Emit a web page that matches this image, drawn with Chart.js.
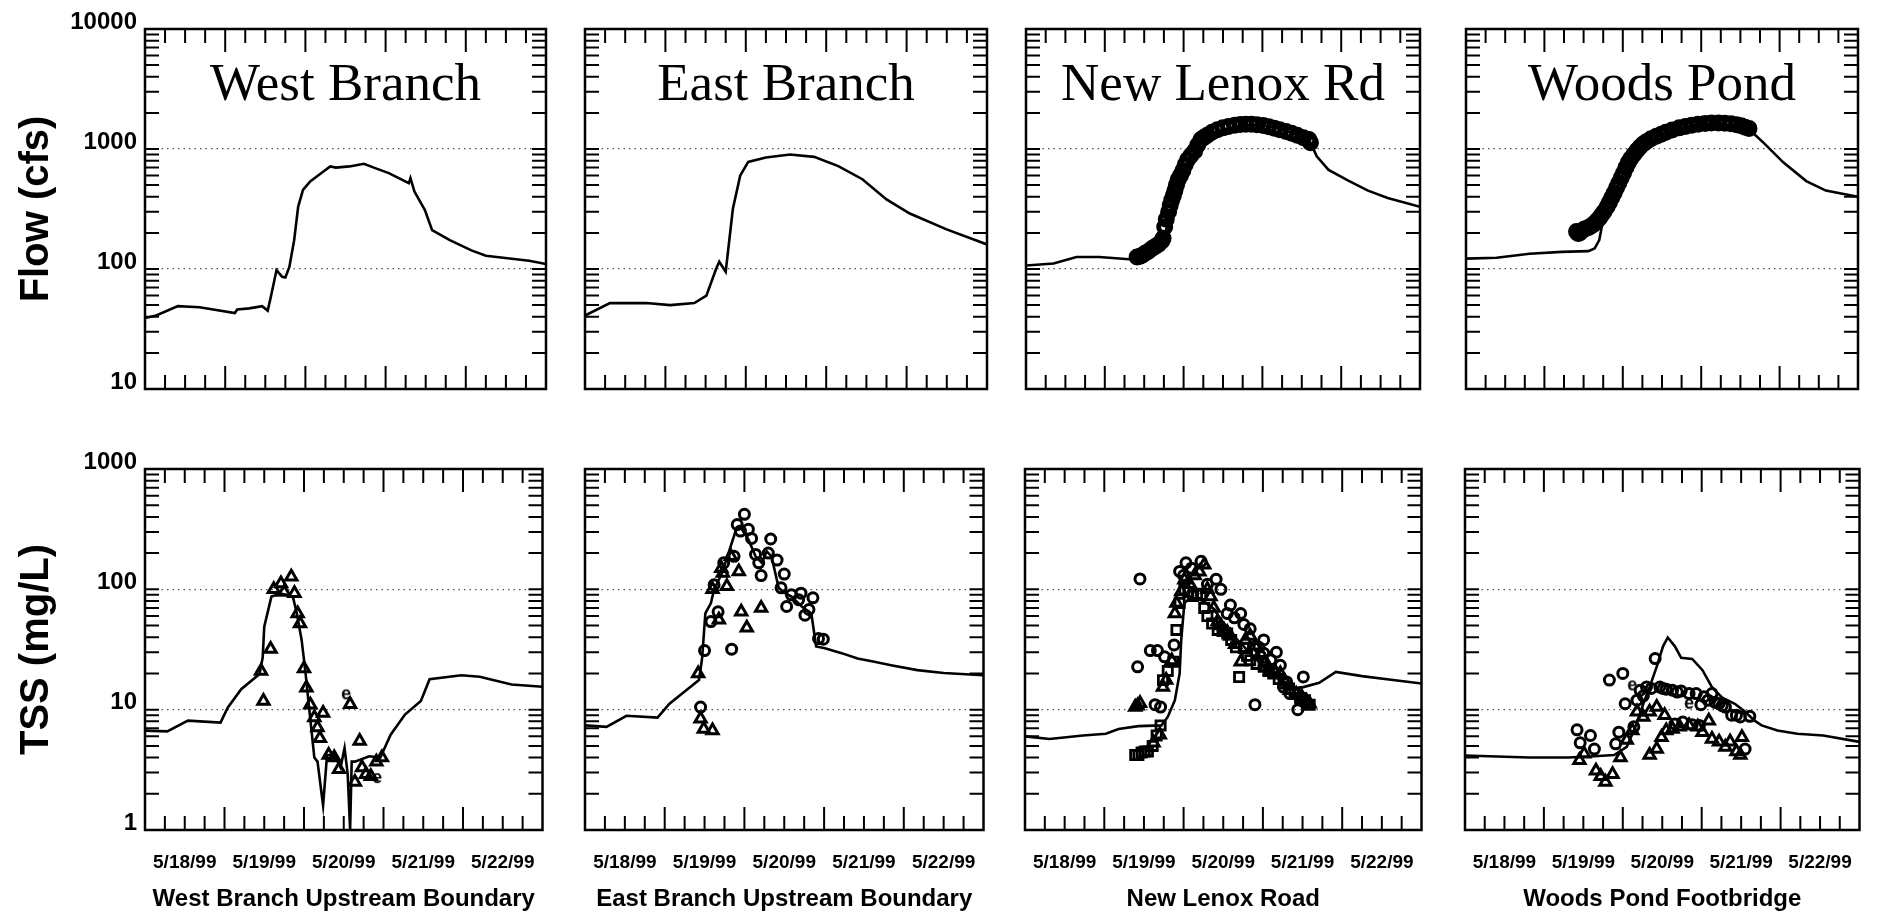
<!DOCTYPE html>
<html>
<head>
<meta charset="utf-8">
<script src="https://cdn.jsdelivr.net/npm/chart.js@4.4.1/dist/chart.umd.min.js"></script>
<style>
  html, body { margin: 0; padding: 0; background: #fff; }
  body { width: 1878px; height: 915px; position: relative; overflow: hidden; }
  canvas { position: absolute; }
</style>
</head>
<body>
<script>
// x values are days after 5/18/99 00:00
const dayLabels = ['5/18/99', '5/19/99', '5/20/99', '5/21/99', '5/22/99'];
const labelDays = [0.5, 1.5, 2.5, 3.5, 4.5];
const flowTicks = [10, 100, 1000, 10000];
const tssTicks = [1, 10, 100, 1000];
const panelTitles = ['West Branch', 'East Branch', 'New Lenox Rd', 'Woods Pond'];
const stationNames = ['West Branch Upstream Boundary', 'East Branch Upstream Boundary', 'New Lenox Road', 'Woods Pond Footbridge'];

// flow (cfs) [day, value]
const wbFlow = [[0,39],[0.14,41],[0.41,49],[0.68,48],[1.12,43],[1.15,46],[1.3,47],[1.46,49],[1.53,45],[1.57,59],[1.64,98],[1.71,86],[1.75,85],[1.8,104],[1.86,174],[1.91,331],[1.97,457],[2.06,537],[2.2,630],[2.31,716],[2.38,700],[2.55,716],[2.73,753],[2.87,693],[3.04,630],[3.29,519],[3.31,571],[3.36,442],[3.49,310],[3.58,211],[3.8,174],[4.07,143],[4.25,129],[4.52,123],[4.79,117],[5,110]];
const ebFlow = [[0,41],[0.31,52],[0.76,52],[1.06,50],[1.36,52],[1.51,60],[1.63,100],[1.67,115],[1.75,95],[1.84,320],[1.93,600],[2.03,780],[2.25,850],[2.55,900],[2.85,860],[3.15,720],[3.45,560],[3.75,380],[4.04,290],[4.49,215],[5,160]];
const nlFlow = [[0,107],[0.35,111],[0.64,126],[0.93,126],[1.35,120],[1.51,125],[1.68,150],[1.8,230],[1.89,420],[2.01,700],[2.18,1050],[2.39,1380],[2.68,1550],[2.93,1600],[3.22,1480],[3.51,1250],[3.61,1130],[3.69,870],[3.84,670],[4.09,545],[4.34,450],[4.59,390],[5,330]];
const nlFlowObs = [[1.41,126],[1.45,128],[1.48,131],[1.51,135],[1.55,140],[1.6,148],[1.64,154],[1.68,160],[1.72,170],[1.74,180],[1.76,224],[1.78,260],[1.81,300],[1.83,340],[1.85,375],[1.87,410],[1.89,450],[1.91,500],[1.93,553],[1.96,600],[1.99,660],[2.02,740],[2.05,813],[2.09,880],[2.14,960],[2.18,1080],[2.22,1200],[2.26,1250],[2.3,1300],[2.36,1380],[2.43,1450],[2.5,1500],[2.57,1540],[2.65,1580],[2.72,1600],[2.79,1610],[2.86,1610],[2.93,1590],[3.01,1570],[3.08,1530],[3.15,1490],[3.22,1450],[3.3,1400],[3.37,1350],[3.44,1300],[3.52,1240],[3.59,1200],[3.61,1130]];
const wpFlow = [[0,122],[0.39,124],[0.81,134],[1.22,139],[1.56,141],[1.64,148],[1.7,174],[1.74,240],[1.8,330],[1.89,430],[2.05,720],[2.26,1080],[2.55,1380],[2.88,1580],[3.22,1650],[3.61,1460],[3.8,1120],[4.05,770],[4.34,540],[4.59,450],[5,400]];
const wpFlowObs = [[1.41,205],[1.43,198],[1.45,200],[1.48,208],[1.51,215],[1.55,220],[1.58,225],[1.61,232],[1.64,240],[1.67,252],[1.7,265],[1.73,282],[1.76,300],[1.8,330],[1.83,360],[1.86,395],[1.89,430],[1.92,475],[1.95,520],[1.98,575],[2.01,630],[2.04,700],[2.07,770],[2.1,830],[2.14,900],[2.18,970],[2.22,1040],[2.26,1100],[2.3,1150],[2.36,1220],[2.43,1280],[2.49,1330],[2.55,1380],[2.63,1440],[2.72,1500],[2.8,1540],[2.88,1580],[2.96,1610],[3.05,1630],[3.13,1645],[3.22,1650],[3.3,1640],[3.38,1620],[3.45,1590],[3.51,1560],[3.56,1520],[3.61,1480]];

// TSS (mg/L) [day, value]
const wbTss = [[0,6.7],[0.28,6.6],[0.54,8.1],[0.95,7.8],[1.04,10.4],[1.21,14.8],[1.44,19.8],[1.48,27],[1.5,49],[1.59,87],[1.71,92],[1.86,87],[1.91,63],[1.97,38],[2.02,20],[2.06,11],[2.13,4],[2.17,3.7],[2.24,1.6],[2.29,4.2],[2.38,4.2],[2.46,3.3],[2.51,4.8],[2.55,2.9],[2.58,1],[2.6,3.7],[2.64,3.7],[2.82,4.1],[2.96,4],[3.09,6.2],[3.27,9.1],[3.47,11.8],[3.58,17.9],[3.98,19.3],[4.21,18.8],[4.61,16.2],[5,15.5]];
const wbTri = [[1.46,21],[1.49,11.8],[1.58,32],[1.62,100],[1.71,112],[1.75,95],[1.84,127],[1.88,93],[1.92,63],[1.95,52],[2,22],[2.03,15.2],[2.08,11],[2.13,8.6],[2.17,7.1],[2.2,5.8],[2.24,9.4],[2.31,4.2],[2.38,4],[2.44,3.2],[2.58,11.1],[2.64,2.5],[2.7,5.5],[2.73,3.3],[2.78,2.9],[2.84,2.8],[2.91,3.7],[2.98,4]];
const wbEst = [[2.53,13.4],[2.92,2.7]];

const ebTss = [[0,7.4],[0.27,7.2],[0.52,8.9],[0.91,8.6],[1.06,11.2],[1.27,14.5],[1.43,17.6],[1.47,27],[1.51,63],[1.58,77],[1.62,100],[1.72,137],[1.8,200],[1.89,305],[1.95,330],[2.05,260],[2.14,188],[2.22,166],[2.28,207],[2.34,188],[2.43,103],[2.51,93],[2.59,87],[2.72,72],[2.84,63],[2.9,33.5],[3.01,32.4],[3.22,29.5],[3.42,26.6],[3.63,25],[3.84,23.4],[4.17,21.3],[4.5,20.2],[5,19.3]];
const ebCirc = [[1.45,10.5],[1.5,31],[1.58,54],[1.62,109],[1.67,65],[1.74,166],[1.84,31.8],[1.87,188],[1.91,345],[1.95,305],[2,420],[2.05,315],[2.09,265],[2.14,195],[2.18,166],[2.21,130],[2.3,200],[2.33,262],[2.41,175],[2.46,103],[2.5,134],[2.53,72],[2.59,90],[2.68,82],[2.71,93],[2.76,61],[2.81,68],[2.86,85],[2.93,39],[2.99,38.5]];
const ebTri = [[1.42,20],[1.45,8.4],[1.49,6.9],[1.6,6.7],[1.6,100],[1.68,56],[1.71,150],[1.73,137],[1.78,106],[1.83,188],[1.93,141],[1.96,65],[2.03,48],[2.21,70]];

const nlTss = [[0,6],[0.31,5.7],[0.73,6.1],[1.02,6.3],[1.18,6.9],[1.43,7.3],[1.72,7.4],[1.8,8.7],[1.89,12],[1.95,20],[1.97,38],[2.01,77],[2.07,83],[2.18,83],[2.26,79],[2.39,68],[2.51,49],[2.68,38],[2.84,29.5],[3.01,22.7],[3.22,17.6],[3.34,15],[3.51,15.4],[3.71,16.7],[3.92,20.6],[4.25,19],[4.59,17.8],[5,16.5]];
const nlCirc = [[1.45,122],[1.42,22.7],[1.58,31],[1.67,31],[1.76,27.5],[1.64,11],[1.71,10.5],[1.88,34.5],[2.03,166],[1.95,141],[2.22,171],[2.41,121],[2.47,100],[2.55,63],[2.59,74],[2.72,63],[2.76,51],[2.84,47],[2.9,11],[3.01,38],[3.01,29.5],[3.17,30],[3.22,23.4],[3.26,15.4],[3.34,13.6],[3.44,10],[3.51,18.7],[2.0,130],[2.1,150],[2.3,110],[2.64,58],[2.95,33],[3.1,26],[3.3,17]];
const nlSq = [[1.39,4.2],[1.43,4.2],[1.47,4.4],[1.51,4.5],[1.55,4.5],[1.61,5],[1.66,6.1],[1.71,7.4],[1.74,17.6],[1.8,21],[1.87,25],[1.91,46],[1.95,77],[2.01,100],[2.06,95],[2.12,88],[2.17,92],[2.22,90],[2.26,70],[2.3,60],[2.36,52],[2.43,46],[2.49,45],[2.55,43],[2.6,38],[2.66,33],[2.7,18.7],[2.76,32.6],[2.8,28],[2.84,25.8],[2.92,24],[3.01,22.7],[3.07,21],[3.13,20],[3.2,18],[3.26,16.5],[3.33,15],[3.4,13.5],[3.47,12.5],[3.53,12],[3.59,11]];
const nlTri = [[1.39,10.5],[1.42,10.8],[1.45,11.3],[1.62,5.3],[1.7,6.2],[1.74,15.4],[1.78,17.6],[1.85,25.6],[1.89,63],[1.91,77],[1.97,96],[2.01,120],[2.08,110],[2.14,130],[2.2,140],[2.26,160],[2.3,100],[2.34,87],[2.38,70],[2.43,54],[2.47,50],[2.51,46],[2.55,44],[2.59,41],[2.65,35],[2.72,25],[2.78,38],[2.84,41],[2.9,34],[2.97,29.5],[3.03,25],[3.09,21],[3.15,21],[3.22,20],[3.28,17],[3.34,14.5],[3.42,13.5],[3.49,12.8],[3.55,11.8],[3.59,11.2]];

const wpTss = [[0,4.16],[0.81,4],[1.31,4],[1.64,4.1],[1.89,4.2],[2.05,4.9],[2.16,7.2],[2.26,11.2],[2.34,15.4],[2.43,22.8],[2.51,33.6],[2.57,39.8],[2.66,33.6],[2.74,27],[2.88,26.4],[3.01,21.3],[3.13,15.4],[3.26,12.6],[3.42,11.2],[3.55,9.6],[3.67,8.1],[3.76,7.4],[3.96,6.7],[4.21,6.3],[4.54,6.1],[5,5.4]];
const wpCirc = [[1.42,6.8],[1.46,5.3],[1.59,6.1],[1.64,4.7],[1.83,17.6],[1.91,5.2],[1.95,6.5],[2,20],[2.03,11.2],[2.14,7.2],[2.22,14.5],[2.3,15.4],[2.41,26.6],[2.47,15.4],[2.55,14.8],[2.63,14.5],[2.74,14.3],[2.84,13.6],[2.93,13.6],[2.99,11],[3.03,12.8],[3.13,13.6],[3.22,11.2],[3.3,10.5],[3.38,9],[3.49,8.7],[3.55,4.7],[3.61,8.8],[2.66,7.6],[2.76,7.9],[2.88,7.5],[2.97,7.4],[2.18,12],[2.26,13],[2.36,15],[2.51,15],[2.69,14],[3.08,12],[3.17,11.5],[3.26,10.8],[3.44,9]];
const wpTri = [[1.45,3.8],[1.51,4.3],[1.66,3.1],[1.72,2.8],[1.78,2.5],[1.87,2.9],[1.97,4],[2.05,5.6],[2.12,6.7],[2.18,9.6],[2.26,8.7],[2.34,9.6],[2.43,10.5],[2.53,9],[2.34,4.2],[2.43,4.7],[2.49,5.9],[2.55,6.7],[2.63,6.9],[2.72,7.2],[2.84,7.4],[2.95,7.2],[3.01,6.5],[3.09,8.1],[3.13,5.7],[3.22,5.4],[3.3,4.9],[3.36,5.4],[3.44,4.5],[3.49,4.2],[3.51,5.9]];
const wpEst = [[2.12,15.9],[2.84,11.2]];

const colLeft = [145, 585, 1025, 1465];
const colRight = [546, 987, 1425, 1863];
const rowTop = [29, 469];
const rowBottom = [389, 830];

const pts = arr => arr.map(([x, y]) => ({ x, y }));

function letterMark(ch) {
  const c = document.createElement('canvas');
  c.width = 14; c.height = 16;
  const g = c.getContext('2d');
  g.font = 'bold 18px "Liberation Sans", Arial, sans-serif';
  g.textAlign = 'center';
  g.textBaseline = 'middle';
  g.fillStyle = '#000';
  g.fillText(ch, 7, 8);
  return c;
}
const eMark = letterMark('e');

const lineDs = d => ({ data: pts(d), showLine: true, borderColor: '#000', borderWidth: 2.6, pointRadius: 0, order: 1 });
const markDs = (d, style, r, bw) => ({
  data: pts(d), showLine: false, pointStyle: style, pointRadius: r,
  pointBorderWidth: bw, pointBorderColor: '#000', pointBackgroundColor: 'rgba(0,0,0,0)', order: 2
});

const panels = [
  { row: 0, col: 0, sets: [lineDs(wbFlow)] },
  { row: 0, col: 1, sets: [lineDs(ebFlow)] },
  { row: 0, col: 2, sets: [lineDs(nlFlow), markDs(nlFlowObs, 'circle', 6, 5)] },
  { row: 0, col: 3, sets: [lineDs(wpFlow), markDs(wpFlowObs, 'circle', 6, 5)] },
  { row: 1, col: 0, sets: [lineDs(wbTss), markDs(wbTri, 'triangle', 6.5, 3), markDs(wbEst, eMark, 6, 0)] },
  { row: 1, col: 1, sets: [lineDs(ebTss), markDs(ebCirc, 'circle', 5, 3), markDs(ebTri, 'triangle', 6.5, 3)] },
  { row: 1, col: 2, sets: [lineDs(nlTss), markDs(nlCirc, 'circle', 5, 3), markDs(nlSq, 'rect', 6.5, 2.8), markDs(nlTri, 'triangle', 6.5, 3)] },
  { row: 1, col: 3, sets: [lineDs(wpTss), markDs(wpCirc, 'circle', 5, 3), markDs(wpTri, 'triangle', 6.5, 3), markDs(wpEst, eMark, 6, 0)] }
];

function framePlugin(p, yMin, yMax) {
  return {
    id: 'frame' + p.row + p.col,
    afterDraw(chart) {
      const { ctx, chartArea: a, scales: { x, y } } = chart;
      ctx.save();
      ctx.strokeStyle = '#000';
      ctx.lineWidth = 2;
      ctx.beginPath();
      // inward x ticks every 6 hours, longer at midnight
      for (let q = 1; q < 20; q++) {
        const px = x.getPixelForValue(q / 4);
        const len = q % 4 === 0 ? 23 : 14;
        ctx.moveTo(px, a.bottom); ctx.lineTo(px, a.bottom - len);
        ctx.moveTo(px, a.top); ctx.lineTo(px, a.top + len);
      }
      // inward log ticks 1..9 per decade
      const d0 = Math.round(Math.log10(yMin)), d1 = Math.round(Math.log10(yMax));
      for (let d = d0; d < d1; d++) {
        for (let k = 1; k <= 9; k++) {
          const py = y.getPixelForValue(k * Math.pow(10, d));
          ctx.moveTo(a.left, py); ctx.lineTo(a.left + 14, py);
          ctx.moveTo(a.right, py); ctx.lineTo(a.right - 14, py);
        }
      }
      ctx.stroke();
      ctx.lineWidth = 2.5;
      ctx.strokeRect(a.left, a.top, a.right - a.left, a.bottom - a.top);
      if (p.row === 0) {
        ctx.fillStyle = '#000';
        ctx.font = '53px "Liberation Serif", "Times New Roman", serif';
        ctx.textAlign = 'center';
        ctx.textBaseline = 'alphabetic';
        ctx.fillText(panelTitles[p.col], (a.left + a.right) / 2, a.top + 71);
      }
      ctx.restore();
    }
  };
}

panels.forEach(p => {
  const left = colLeft[p.col], right = colRight[p.col];
  const top = rowTop[p.row], bottom = rowBottom[p.row];
  const lm = p.col === 0 ? left : 10, rm = 6;
  const tm = p.row === 0 ? top : 24;
  const bm = p.row === 0 ? 20 : 915 - bottom;
  const cv = document.createElement('canvas');
  cv.width = lm + right - left + rm;
  cv.height = tm + bottom - top + bm;
  cv.style.left = (left - lm) + 'px';
  cv.style.top = (top - tm) + 'px';
  document.body.appendChild(cv);

  const yT = p.row === 0 ? flowTicks : tssTicks;
  const yMin = yT[0], yMax = yT[yT.length - 1];
  const first = p.col === 0, lower = p.row === 1;

  new Chart(cv, {
    type: 'scatter',
    data: { datasets: p.sets },
    options: {
      responsive: false,
      animation: false,
      devicePixelRatio: 1,
      layout: { padding: { top: tm, right: rm, left: 0, bottom: 0 } },
      plugins: { legend: { display: false }, tooltip: { enabled: false } },
      scales: {
        x: {
          type: 'linear', min: 0, max: 5,
          grid: { display: false },
          border: { display: false },
          afterBuildTicks: s => { s.ticks = labelDays.map(v => ({ value: v })); },
          afterFit: s => { s.height = bm; s.paddingLeft = 0; s.paddingRight = 0; },
          ticks: {
            display: lower, autoSkip: false, maxRotation: 0, padding: 13, color: '#000',
            font: { family: '"Liberation Sans", Arial, sans-serif', weight: 'bold', size: 19 },
            callback: v => dayLabels[labelDays.indexOf(v)]
          },
          title: {
            display: lower, text: stationNames[p.col], color: '#000',
            padding: { top: 0, bottom: 1 },
            font: { family: '"Liberation Sans", Arial, sans-serif', weight: 'bold', size: 24, lineHeight: 1.2 }
          }
        },
        y: {
          type: 'logarithmic', min: yMin, max: yMax,
          grid: {
            drawTicks: false, lineWidth: 1.2,
            color: c => (c.tick && (c.tick.value === yMin || c.tick.value === yMax)) ? 'rgba(0,0,0,0)' : '#555'
          },
          border: { display: false, dash: [1.5, 4] },
          afterBuildTicks: s => { s.ticks = yT.map(v => ({ value: v })); },
          afterFit: s => { s.width = lm; s.paddingTop = 0; s.paddingBottom = 0; },
          ticks: {
            display: first, autoSkip: false, padding: 8, labelOffset: -7, color: '#000',
            font: { family: '"Liberation Sans", Arial, sans-serif', weight: 'bold', size: 24 },
            callback: v => String(v)
          },
          title: {
            display: first, text: p.row === 0 ? 'Flow (cfs)' : 'TSS (mg/L)', color: '#000',
            padding: { top: 13, bottom: 0 },
            font: { family: '"Liberation Sans", Arial, sans-serif', weight: 'bold', size: 40, lineHeight: 1.2 }
          }
        }
      }
    },
    plugins: [framePlugin(p, yMin, yMax)]
  });
});
</script>
</body>
</html>
